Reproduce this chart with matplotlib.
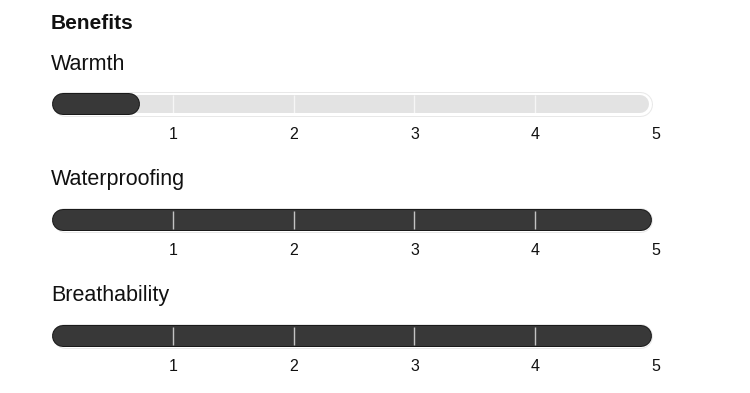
"""Rating bars for jacket benefits."""

import matplotlib
matplotlib.use("Agg")
import matplotlib.pyplot as plt
import matplotlib.patheffects as pe

title = "Benefits"
categories = ["Warmth", "Waterproofing", "Breathability"]
scores = [0.73, 5, 5]
scale_max = 5
tick_values = [1, 2, 3, 4, 5]
tick_labels = ["1", "2", "3", "4", "5"]

W, H = 750, 393
PX = 0.72  # points per pixel at dpi 100
plt.rcParams["font.family"] = ["Liberation Sans", "DejaVu Sans"]

fig = plt.figure(figsize=(W / 100, H / 100), dpi=100)
fig.text(51 / W, 1 - 29 / H, title, fontsize=15, fontweight="bold",
         va="baseline", ha="left", color="#111111")

x0, x5 = 52, 656  # pixel positions of 0 and scale_max
unit = (x5 - x0) / scale_max
bar_end = scale_max - 4 / unit
first_center, spacing = 104, 116

for i, (name, score) in enumerate(zip(categories, scores)):
    cy = first_center + i * spacing
    fig.text(51 / W, 1 - (cy - 34.5) / H, name, fontsize=15.5,
             va="baseline", ha="left", color="#111111")

    ax = fig.add_axes([x0 / W, 1 - (cy + 20) / H, (x5 - x0) / W, 40 / H])
    ax.set_xlim(0, scale_max)
    ax.set_ylim(-1, 1)

    # background track
    r = 12.5 / unit
    ax.plot([r, bar_end - r], [0, 0], color="#e3e3e3", lw=18 * PX,
            solid_capstyle="round", zorder=1,
            path_effects=[pe.Stroke(linewidth=25 * PX, foreground="#e8e8e8"),
                          pe.Stroke(linewidth=23 * PX, foreground="white"),
                          pe.Normal()])

    # filled part
    end = min(score, bar_end)
    r = 11 / unit
    ax.plot([r, max(end - r, r)], [0, 0], color="#383838", lw=20 * PX,
            solid_capstyle="round", zorder=2,
            path_effects=[pe.Stroke(linewidth=22 * PX, foreground="#1a1a1a"),
                          pe.Normal()])

    # dividers
    for t in tick_values[:-1]:
        ax.plot([t, t], [-0.45, 0.45], color="white", alpha=0.7,
                lw=1.4 * PX, zorder=3, solid_capstyle="butt")

    ax.set_xticks(tick_values)
    ax.set_xticklabels(tick_labels)
    ax.tick_params(axis="x", length=0, pad=2.2, labelsize=11.5,
                   labelcolor="#111111")
    ax.set_yticks([])
    for s in ax.spines.values():
        s.set_visible(False)
    ax.patch.set_alpha(0)

fig.savefig("out.png", dpi=100)
